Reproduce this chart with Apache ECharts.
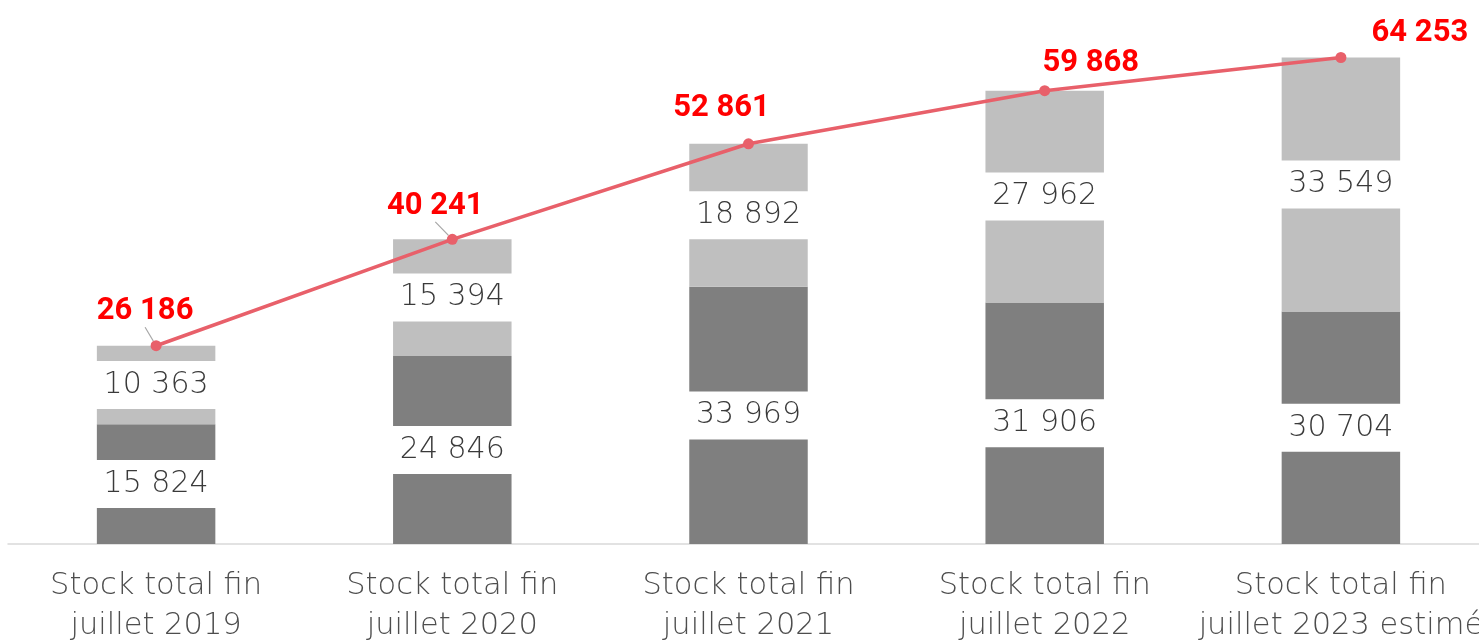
<!DOCTYPE html>
<html>
<head>
<meta charset="utf-8">
<script src="https://cdn.jsdelivr.net/npm/echarts@6/dist/echarts.min.js"></script>
<style>
html,body{margin:0;padding:0;background:#fff;}
#chart{width:1479px;height:643px;}
</style>
</head>
<body>
<div id="chart"></div>
<script>
const categories = ['Stock total fin\njuillet 2019','Stock total fin\njuillet 2020','Stock total fin\njuillet 2021','Stock total fin\njuillet 2022','Stock total fin\njuillet 2023 estimé'];
const darkValues = [15824, 24846, 33969, 31906, 30704];
const lightValues = [10363, 15394, 18892, 27962, 33549];
const totalValues = [26186, 40241, 52861, 59868, 64253];
const totalLabelShift = [[-11,-5],[-17,-4],[-27,-7],[46,2],[79,5]];
const showLeader = [true, true, false, false, false];

const fmt = v => String(v).replace(/\B(?=(\d{3})+(?!\d))/g, ' ');

const barLabel = {
  show: true,
  position: 'inside',
  formatter: p => fmt(p.value),
  color: '#3a3a3a',
  fontFamily: 'DejaVu Sans',
  fontWeight: 200,
  fontSize: 30,
  lineHeight: 36,
  backgroundColor: '#ffffff',
  padding: [6, 4],
  width: 124,
  align: 'center'
};

const chart = echarts.init(document.getElementById('chart'));
chart.setOption({
  animation: false,
  backgroundColor: '#ffffff',
  grid: { left: 8, width: 1481, top: 14, bottom: 99, containLabel: false, outerBoundsMode: 'none' },
  xAxis: {
    type: 'category',
    data: categories,
    axisLine: { show: true, lineStyle: { color: '#d9d9d9', width: 1.5 } },
    axisTick: { show: false },
    axisLabel: {
      color: '#4d4d4d',
      fontFamily: 'DejaVu Sans',
      fontWeight: 200,
      fontSize: 30.5,
      lineHeight: 40,
      margin: 22,
      interval: 0
    }
  },
  yAxis: {
    type: 'value',
    min: 0,
    max: 70000,
    show: false,
    splitLine: { show: false }
  },
  series: [
    {
      name: 'dark',
      type: 'bar',
      stack: 'total',
      barWidth: '40%',
      data: darkValues,
      itemStyle: { color: '#7f7f7f' },
      label: barLabel
    },
    {
      name: 'light',
      type: 'bar',
      stack: 'total',
      barWidth: '40%',
      data: lightValues,
      itemStyle: { color: '#bfbfbf' },
      label: barLabel
    },
    {
      name: 'total',
      type: 'line',
      data: totalValues.map((v, i) => ({ value: v, labelLine: { show: showLeader[i] } })),
      symbol: 'circle',
      symbolSize: 11,
      z: 10,
      lineStyle: { color: '#e8606a', width: 3.5 },
      itemStyle: { color: '#e8606a' },
      label: {
        show: true,
        position: 'top',
        distance: 8,
        formatter: p => fmt(p.value),
        color: '#ff0000',
        fontFamily: 'Roboto',
        fontWeight: 'bold',
        fontSize: 31
      },
      labelLine: { show: false, lineStyle: { color: '#a6a6a6', width: 1.2 } },
      labelLayout: p => ({ dx: totalLabelShift[p.dataIndex][0], dy: totalLabelShift[p.dataIndex][1] })
    }
  ]
});
</script>
</body>
</html>
